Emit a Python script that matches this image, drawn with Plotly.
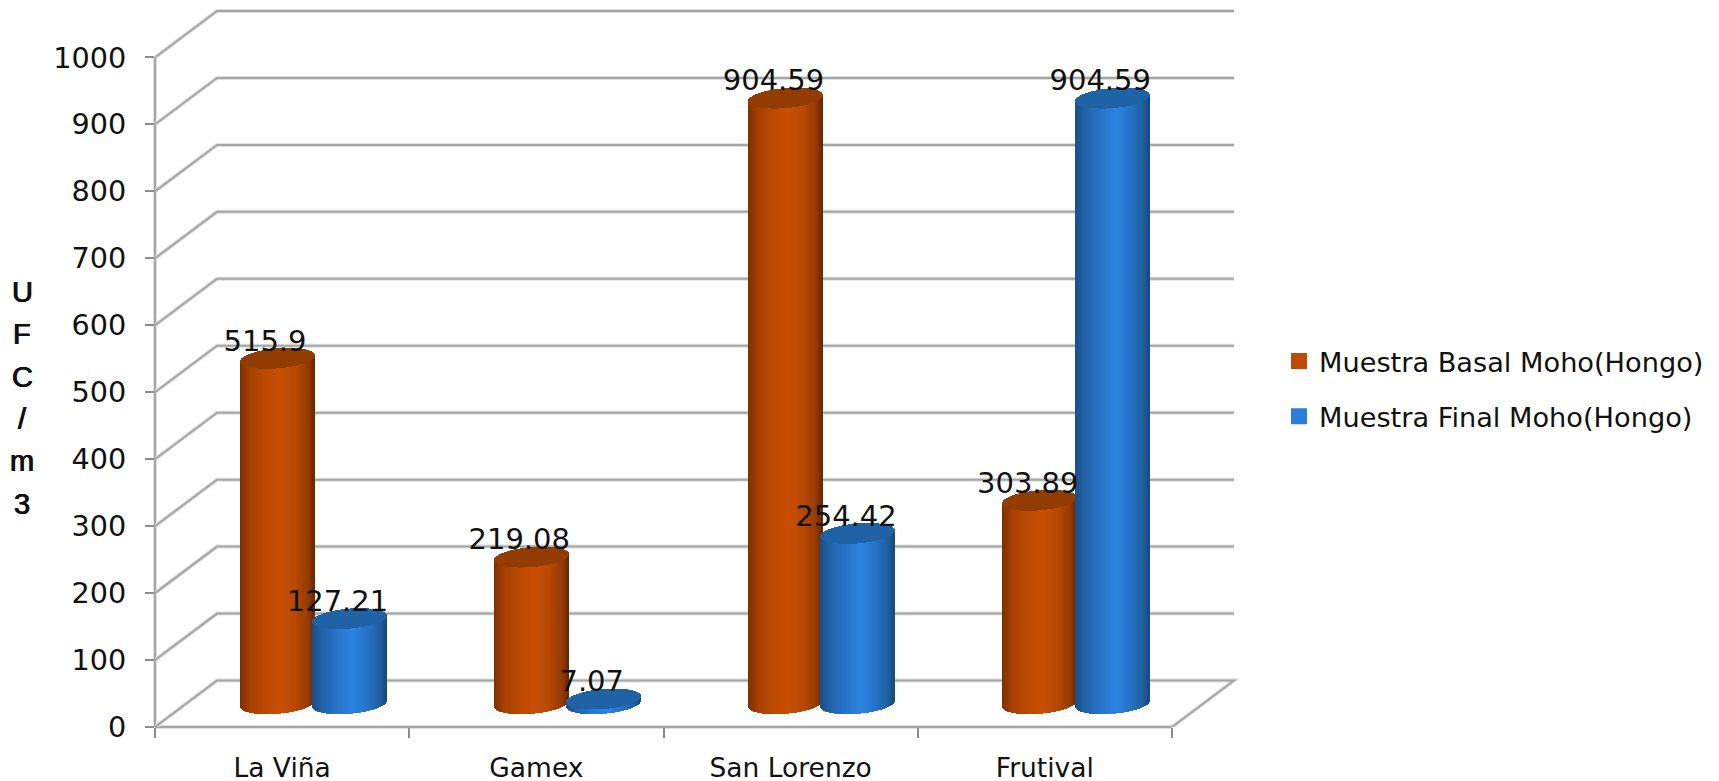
import numpy as np
import plotly.graph_objects as go

# Chart data
categories = ["La Viña", "Gamex", "San Lorenzo", "Frutival"]
basal_name = "Muestra Basal Moho(Hongo)"
final_name = "Muestra Final Moho(Hongo)"
basal_values = [515.9, 219.08, 904.59, 303.89]
final_values = [127.21, 7.07, 254.42, 904.59]
y_ticks = list(range(0, 1001, 100))
y_title_letters = ["U", "F", "C", "/", "m", "3"]

# Page and plot box, in pixels
W, H = 1719, 781
PLOT_L, PLOT_R, PLOT_T, PLOT_B = 155, 1240, 5, 727.5
PX_PER_CAT = 254.25
PX_PER_UNIT = 0.67

# Oblique projection of the 3D box, in axis units
DEPTH_X = 62 / PX_PER_CAT
DEPTH_Y = 46.5 / PX_PER_UNIT

# Cylinder shape
HALF_W = 37 / PX_PER_CAT
CAP_B = 10 / PX_PER_UNIT
CAP_TILT = 3 / PX_PER_UNIT
N_STRIPS = 74
BASAL_OFFSET = 0.358
FINAL_OFFSET = 0.643

GRID = "#a6a6a6"
GRID_SOFT = "#e0e0e0"
TEXT = "#111111"
FONT = "DejaVu Sans"

ORANGE = "#c14a03"
BLUE = "#2b7fdc"
ORANGE_CAP = "#933c02"
BLUE_CAP = "#1f62a6"
SHADE_POS = [-1.0, -0.7, -0.3, 0.1, 0.5, 0.85, 1.0]
ORANGE_SHADE = ["#7f3000", "#a84202", "#bd4a03", "#c94f05", "#b84802", "#943a01", "#6a2800"]
BLUE_SHADE = ["#1a4f88", "#2264ab", "#2875cc", "#2c84e0", "#2573c6", "#1f5f9f", "#184a7c"]


def shade(stops, u):
    rgb = np.array([[int(c[i:i + 2], 16) for i in (1, 3, 5)] for c in stops], float)
    vals = [np.interp(u, SHADE_POS, rgb[:, k]) for k in range(3)]
    return [f"rgb({int(r)},{int(g)},{int(b)})" for r, g, b in zip(*vals)]


def cylinders(values, offset, stops, cap_color):
    """Two bar traces (body, cap) built from thin strips following the ellipses."""
    u = (np.arange(N_STRIPS) + 0.5) / N_STRIPS * 2 - 1
    chord = CAP_B * np.sqrt(1 - u ** 2)
    tilt = CAP_TILT * u
    xs, body_base, body_h, cap_base, colors = [], [], [], [], []
    strip_colors = shade(stops, u)
    for i, v in enumerate(values):
        cx = i + offset + DEPTH_X / 2
        floor = DEPTH_Y / 2
        xs.extend(cx + u * HALF_W)
        body_base.extend(floor + tilt - chord)
        body_h.extend(v + chord)
        cap_base.extend(floor + v + tilt - chord)
        colors.extend(strip_colors)
    strip_w = 2 * HALF_W / N_STRIPS
    common = dict(x=xs, width=strip_w, showlegend=False, hoverinfo="skip")
    body = go.Bar(y=body_h, base=body_base, marker=dict(color=colors, line_width=0), **common)
    cap = go.Bar(y=list(2 * chord) * len(values), base=cap_base,
                 marker=dict(color=cap_color, line_width=0), **common)
    return [body, cap]


fig = go.Figure()
for trace in cylinders(basal_values, BASAL_OFFSET, ORANGE_SHADE, ORANGE_CAP):
    fig.add_trace(trace)
for trace in cylinders(final_values, FINAL_OFFSET, BLUE_SHADE, BLUE_CAP):
    fig.add_trace(trace)

# Value labels sit above and slightly left of each cap
for values, offset in ((basal_values, BASAL_OFFSET), (final_values, FINAL_OFFSET)):
    fig.add_trace(go.Scatter(
        x=[i + offset + DEPTH_X / 2 - 12 / PX_PER_CAT for i in range(len(values))],
        y=[v + DEPTH_Y / 2 + 15 / PX_PER_UNIT for v in values],
        text=[f"{v:g}" for v in values],
        mode="text", textposition="middle center",
        textfont=dict(family=FONT, size=29, color=TEXT),
        showlegend=False, hoverinfo="skip",
    ))

# Legend entries
for name, color in ((basal_name, ORANGE), (final_name, BLUE)):
    fig.add_trace(go.Scatter(
        x=[None], y=[None], mode="markers", name=name, legendgroup=name,
        marker=dict(symbol="square", size=16, color=color),
    ))

# Wall and floor lines of the box, with a soft edge beneath each one
paths = []
for v in y_ticks[1:]:
    paths.append([(0, v), (DEPTH_X, v + DEPTH_Y), (len(categories) + DEPTH_X, v + DEPTH_Y)])
n = len(categories)
paths.append([(0, 0), (DEPTH_X, DEPTH_Y), (n + DEPTH_X, DEPTH_Y), (n, 0)])

shapes = []
for color, width in ((GRID_SOFT, 4), (GRID, 2)):
    for pts in paths:
        d = "M " + " L ".join(f"{x},{y}" for x, y in pts)
        shapes.append(dict(type="path", path=d, xref="x", yref="y", layer="below",
                           line=dict(color=color, width=width)))
    # Front edges of the box
    shapes.append(dict(type="line", xref="paper", yref="y", x0=0, x1=0, y0=0, y1=y_ticks[-1],
                       layer="below", line=dict(color=color, width=width)))
    shapes.append(dict(type="line", xref="x", yref="paper", x0=0, x1=n, y0=0, y1=0,
                       layer="below", line=dict(color=color, width=width)))

# Stacked letters of the vertical axis title, thickened slightly with a text shadow
annotations = [
    dict(text=ch, xref="paper", yref="paper", showarrow=False,
         x=(22 - PLOT_L) / (PLOT_R - PLOT_L),
         y=(PLOT_B - (292 + 42.4 * i)) / (PLOT_B - PLOT_T),
         xanchor="center", yanchor="middle",
         font=dict(family="Liberation Sans", size=29, color=TEXT,
                   shadow="0.5px 0 0 #111111, -0.5px 0 0 #111111"))
    for i, ch in enumerate(y_title_letters)
]

fig.update_layout(
    width=W, height=H, autosize=False,
    margin=dict(l=PLOT_L, r=W - PLOT_R, t=PLOT_T, b=H - PLOT_B, pad=0),
    paper_bgcolor="white", plot_bgcolor="white",
    barmode="overlay", bargap=0,
    shapes=shapes, annotations=annotations,
    xaxis=dict(
        range=[0, (PLOT_R - PLOT_L) / PX_PER_CAT], automargin=False,
        tickmode="array", tickvals=[i + 0.5 for i in range(n)], ticktext=categories,
        ticks="", showgrid=False, zeroline=False, showline=False,
        tickfont=dict(family=FONT, size=26.5, color=TEXT),
        ticklabelstandoff=22,
        minor=dict(tickmode="array", tickvals=list(range(n + 1)), ticks="outside",
                   ticklen=10, tickwidth=2, tickcolor="#8c8c8c", showgrid=False),
    ),
    yaxis=dict(
        range=[0, (PLOT_B - PLOT_T) / PX_PER_UNIT], automargin=False,
        tickmode="array", tickvals=y_ticks,
        ticks="outside", ticklen=9, tickwidth=2, tickcolor="#8c8c8c",
        showgrid=False, zeroline=False, showline=False,
        tickfont=dict(family=FONT, size=28.7, color=TEXT),
        ticklabelstandoff=13,
    ),
    legend=dict(
        x=(1279 - PLOT_L) / (PLOT_R - PLOT_L), xanchor="left",
        y=(PLOT_B - 389) / (PLOT_B - PLOT_T), yanchor="middle",
        font=dict(family=FONT, size=27.2, color=TEXT),
        itemsizing="trace", tracegroupgap=17, traceorder="grouped",
        bgcolor="rgba(0,0,0,0)",
    ),
)

fig.write_html("out.html")
